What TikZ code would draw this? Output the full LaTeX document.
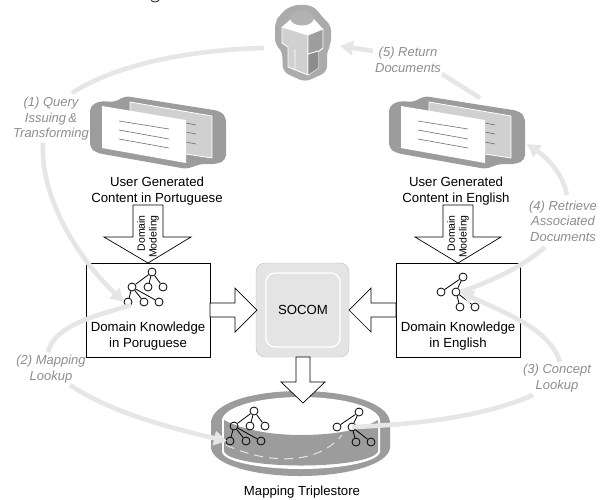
\documentclass[tikz,border=0pt]{standalone}
\usepackage{fontspec}
\setmainfont{Liberation Sans}
\usetikzlibrary{arrows.meta}
\definecolor{flow}{HTML}{E6E6E6}
\definecolor{lab}{HTML}{8E8E8E}
\definecolor{shell}{HTML}{9C9C9C}
\definecolor{page}{HTML}{D0D0D0}
\definecolor{soc}{HTML}{E4E4E4}
\tikzset{
 flowline/.style={draw=flow,line width=4.6pt,line cap=butt},
 flowtip/.style={flowline,-{Triangle[width=14pt,length=13pt]}},
 steplabel/.style={font=\fontsize{13}{15.5}\selectfont\itshape,text=lab,align=center,inner sep=0pt},
 boxtext/.style={font=\fontsize{13.2}{15.5}\selectfont,align=center,inner sep=0pt,text=black},
 blockarrow/.style={draw=black,fill=white,line width=0.7pt,line join=miter},
 kbox/.style={draw=black,fill=white,line width=0.7pt},
 tn/.style={circle,draw=black,fill=none,line width=0.8pt,minimum size=8pt,inner sep=0pt},
 te/.style={draw=black,line width=0.8pt},
 vtext/.style={font=\fontsize{10.5}{12}\selectfont,rotate=90,anchor=east,inner sep=0pt},
 docline/.style={draw=shell!70!black,line width=0.6pt},
 bodyline/.style={draw=white,line width=0.9pt,line join=round},
}
\newcommand{\doc}[1]{%
\begin{scope}[xshift=#1pt]
 \fill[shell,rounded corners=5pt] (90,106)--(100,101)--(115,102)--(125,96)--(220,111)--(226,117)--(226,160)--(217,164)--(200,164)--(187,169)--(97,153)--(90,148)--cycle;
 \fill[page,draw=white,line width=0.8pt] (130,102)--(212,116)--(212,158)--(186,154)--(130,120)--cycle;
 \draw[docline] (186,123)--(196,125) (186,132)--(196,134) (186,142)--(196,144);
 \fill[white] (102,106)--(186,120)--(186,163)--(102,148)--cycle;
 \draw[docline] (119,121)--(169,129) (119,130)--(169,139) (119,139)--(169,148);
\end{scope}}
\newcommand{\fulltree}[3]{%
\begin{scope}[xshift=#2pt,yshift=#3pt]
 \node[tn] (#1r) at (152,272) {};
 \node[tn] (#1a) at (132,287) {};
 \node[tn] (#1b) at (148,287) {};
 \node[tn] (#1c) at (163,287) {};
 \node[tn] (#1d) at (128,302) {};
 \node[tn] (#1e) at (144,302) {};
 \node[tn] (#1f) at (159,302) {};
 \draw[te] (#1r)--(#1a) (#1r)--(#1b) (#1r)--(#1c) (#1a)--(#1d) (#1a)--(#1e) (#1a)--(#1f);
\end{scope}}
\newcommand{\smalltree}[3]{%
\begin{scope}[xshift=#2pt,yshift=#3pt]
 \node[tn] (#1r) at (463,277) {};
 \node[tn] (#1a) at (441,292) {};
 \node[tn] (#1b) at (456,292) {};
 \node[tn] (#1c) at (460,307) {};
 \node[tn] (#1d) at (475,307) {};
 \draw[te] (#1r)--(#1a) (#1r)--(#1b) (#1b)--(#1c) (#1b)--(#1d);
\end{scope}}
\begin{document}
\begin{tikzpicture}[x=1pt,y=-1pt]
\useasboundingbox (0,0) rectangle (601,499);
\fill[white] (0,0) rectangle (601,499);

% descender of the cut-off line at the top edge
\draw[black!80,line width=0.9pt] (151,0.4) .. controls (153,2.4) and (157,2.4) .. (159,0.2);

% person
\fill[black!33,rounded corners=6pt] (275,22)--(280,15)--(288,7)--(302,4)--(315,7)--(322,17)--(331,25)--(331,45)--(327,50)--(327,72)--(305,82)--(283,72)--(282,50)--(275,45)--cycle;
\fill[page,bodyline] (282,27)--(308,35)--(308,75)--(288,67)--(288,47)--(282,43)--cycle;
\fill[white] (282,27)--(293,17)--(312,17)--(323,29)--(308,35)--cycle;
\fill[black!30] (302,18) ellipse [x radius=12,y radius=7.5];
\fill[black!38,bodyline] (308,35)--(323,29)--(323,48)--(318,52)--(318,68)--(308,75)--cycle;
\fill[black!45] (308.5,54)--(318,51)--(318,68)--(308.5,74.5)--cycle;
\draw[bodyline] (295,49)--(295,70) (308,54)--(318,51);

% documents
\doc{0}
\doc{299}

% cylinder
\fill[shell] (211,422) .. controls (213,402) and (255,391) .. (300,391) .. controls (345,391) and (388,402) .. (390,422) -- (390,448) .. controls (388,465) and (345,476) .. (300,476) .. controls (255,476) and (213,465) .. (211,448) -- cycle;
\fill[white] (222,420) .. controls (224,406) and (262,397) .. (301,397) .. controls (340,397) and (378,406) .. (380,420) -- (380,452) .. controls (378,462) and (340,469) .. (301,469) .. controls (262,469) and (224,462) .. (222,452) -- cycle;
\fill[shell] (224,420) .. controls (245,431) and (275,435) .. (301,435) .. controls (330,435) and (360,431) .. (378,420) -- (378,451) .. controls (376,460) and (340,465.5) .. (301,465.5) .. controls (262,465.5) and (226,460) .. (224,451) -- cycle;
\coordinate (dashA) at (226,445);
\coordinate (dashB) at (342,435);
\draw[white!90!black,line width=1pt,dash pattern=on 9pt off 6pt] (dashA) .. controls (262,462) and (315,468) .. (dashB);

% boxes
\node[kbox,minimum width=124pt,minimum height=94pt,inner sep=0pt] (kbL) at (148,310) {};
\node[kbox,minimum width=124pt,minimum height=94pt,inner sep=0pt] (kbR) at (458,310) {};

% SOCOM
\node[draw=black!25,fill=soc,rounded corners=9pt,minimum width=93pt,minimum height=94pt,inner sep=0pt] (socom) at (302.5,310) {};
\node[draw=white,line width=1.3pt,rounded corners=9pt,minimum width=74pt,minimum height=74pt,inner sep=0pt,boxtext] (socomin) at (303,310) {SOCOM};

% block arrows
\draw[blockarrow] (133,205)--(163,205)--(163,237)--(191,237)--(148,263)--(104,237)--(133,237)--cycle;
\draw[blockarrow] (443,205)--(473,205)--(473,237)--(501,237)--(458,263)--(415,237)--(443,237)--cycle;
\draw[blockarrow] (210,303)--(235,303)--(235,288)--(257,310)--(235,332)--(235,317)--(210,317)--cycle;
\draw[blockarrow] (396,303)--(371,303)--(371,288)--(349,310)--(371,332)--(371,317)--(396,317)--cycle;
\draw[blockarrow] (296,357)--(310,357)--(310,382)--(325,382)--(303,403)--(281,382)--(296,382)--cycle;

% arrow captions
\node[vtext] (dm1) at (141,215) {Domain};
\node[vtext] (mo1) at (154,215) {Modeling};
\node[vtext] (dm2) at (451,215) {Domain};
\node[vtext] (mo2) at (464,215) {Modeling};

% trees
\fulltree{p}{0}{0}
\fulltree{q}{102}{-139}
\smalltree{s}{0}{0}
\smalltree{t}{-104}{-135}

% flow anchors
\coordinate (userL) at (264,48);
\coordinate (f1a) at (72,93);
\coordinate (f1b) at (43,143);
\coordinate (f2b) at (48,352);
\coordinate (f2c) at (70,385);
\coordinate (f2d) at (227,441);
\coordinate (f3a) at (533,395);
\coordinate (f3b) at (560,362);
\coordinate (f4a) at (545,247);
\coordinate (f4b) at (567,195);
\coordinate (f4c) at (527,144);
\coordinate (f5a) at (480,98);
\coordinate (f5b) at (442,74);
\coordinate (f5c) at (373,51);
\coordinate (f5d) at (340,46);

\draw[flowline] (userL) .. controls (180,50) and (110,68) .. (f1a);
\draw[flowtip] (f1b) .. controls (40,195) and (75,255) .. (pd.west);
\draw[flowline] (pd.south east) .. controls (95,316) and (55,325) .. (f2b);
\draw[flowtip] (f2c) .. controls (110,412) and (170,428) .. (f2d);
\draw[flowline] (tb.center) .. controls (430,424) and (490,414) .. (f3a);
\draw[flowtip] (f3b) .. controls (550,330) and (510,315) .. (sb.east);
\draw[flowline] (sb.east) .. controls (495,280) and (525,265) .. (f4a);
\draw[flowtip] (f4b) .. controls (563,175) and (550,160) .. (f4c);
\draw[flowline] (f5a) -- (f5b);
\draw[flowtip] (f5c) -- (f5d);

% labels
\node[steplabel] (l1) at (51,119) {(1) Query\\Issuing\,\&\\Transforming};
\node[steplabel] (l2) at (51,369) {(2) Mapping\\Lookup};
\node[steplabel] (l3) at (557,378) {(3) Concept\\Lookup};
\node[steplabel] (l4) at (563,221) {(4) Retrieve\\Associated\\Documents};
\node[steplabel] (l5) at (408,60) {(5) Return\\Documents};

\node[boxtext] (t1) at (157,191) {User Generated\\Content in Portuguese};
\node[boxtext] (t2) at (456,191) {User Generated\\Content in English};
\node[boxtext] (t3) at (148,336) {Domain Knowledge\\in Poruguese};
\node[boxtext] (t4) at (458,336) {Domain Knowledge\\in English};
\node[boxtext] (t5) at (302,492) {Mapping Triplestore};
\end{tikzpicture}
\end{document}
